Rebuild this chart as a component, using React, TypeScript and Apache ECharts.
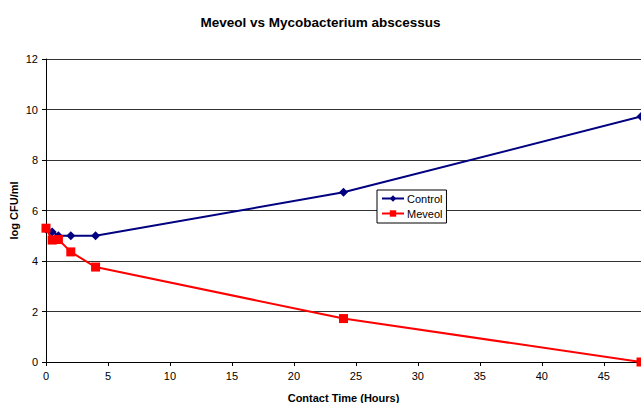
import React, { useEffect, useRef } from "react";
import * as echarts from "echarts";

const times = [0, 0.5, 1, 2, 4, 24, 48];
const controlValues = [5.27, 5.15, 5.0, 5.0, 5.0, 6.72, 9.72];
const meveolValues = [5.3, 4.83, 4.85, 4.36, 3.76, 1.72, 0.0];
const seriesNames = ["Control", "Meveol"];

export default function App() {
  const ref = useRef<HTMLDivElement>(null);
  useEffect(() => {
    if (!ref.current) return;
    const chart = echarts.init(ref.current, null, { renderer: "svg" });
    const font = "Liberation Sans, Arial, sans-serif";
    chart.setOption({
      animation: false,
      backgroundColor: "#ffffff",
      title: {
        text: "Meveol vs Mycobacterium abscessus",
        left: "center",
        top: 10,
        textStyle: { fontFamily: font, fontSize: 13.5, fontWeight: "bold", color: "#000" },
      },
      legend: {
        orient: "vertical",
        left: 377,
        top: 190,
        data: seriesNames,
        backgroundColor: "#fff",
        borderColor: "#000",
        borderWidth: 1,
        borderRadius: 0,
        padding: [3, 4, 4, 4],
        itemGap: 4,
        itemWidth: 22,
        itemHeight: 8,
        textStyle: { fontFamily: font, fontSize: 11, color: "#000", padding: [0, 0, 0, -2] },
      },
      grid: { left: 46, top: 59, bottom: 41, right: 0, containLabel: false, outerBoundsMode: "none" },
      xAxis: {
        type: "value",
        min: 0,
        max: 48,
        interval: 5,
        name: "Contact Time (Hours)",
        nameLocation: "middle",
        nameGap: 30,
        nameMoveOverlap: false,
        nameTextStyle: { fontFamily: font, fontSize: 11, fontWeight: "bold", color: "#000" },
        axisLine: { lineStyle: { color: "#000", width: 1 } },
        axisTick: { show: true, length: 4, lineStyle: { color: "#000" } },
        axisLabel: { fontFamily: font, fontSize: 11, color: "#000", margin: 8, showMaxLabel: false },
        splitLine: { show: false },
      },
      yAxis: {
        type: "value",
        min: 0,
        max: 12,
        interval: 2,
        name: "log CFU/ml",
        nameLocation: "middle",
        nameGap: 27,
        nameMoveOverlap: false,
        nameRotate: 90,
        nameTextStyle: { fontFamily: font, fontSize: 11, fontWeight: "bold", color: "#000" },
        axisLine: { show: true, lineStyle: { color: "#000", width: 1 } },
        axisTick: { show: true, length: 4, inside: false, lineStyle: { color: "#000" } },
        axisLabel: { fontFamily: font, fontSize: 11, color: "#000", margin: 8 },
        splitLine: { show: true, lineStyle: { color: "#333", width: 1 } },
      },
      series: [
        {
          name: seriesNames[0],
          type: "line",
          data: times.map((t, i) => [t, controlValues[i]]),
          symbol: "diamond",
          symbolSize: 9,
          color: "#000080",
          lineStyle: { color: "#000080", width: 2 },
          itemStyle: { color: "#000080" },
          z: 3,
        },
        {
          name: seriesNames[1],
          type: "line",
          data: times.map((t, i) => [t, meveolValues[i]]),
          symbol: "rect",
          symbolSize: 9,
          color: "#ff0000",
          lineStyle: { color: "#ff0000", width: 2 },
          itemStyle: { color: "#ff0000" },
          z: 4,
        },
      ],
    });
    return () => chart.dispose();
  }, []);
  return <div ref={ref} style={{ width: 641, height: 403, position: "absolute", left: 0, top: 0 }} />;
}
